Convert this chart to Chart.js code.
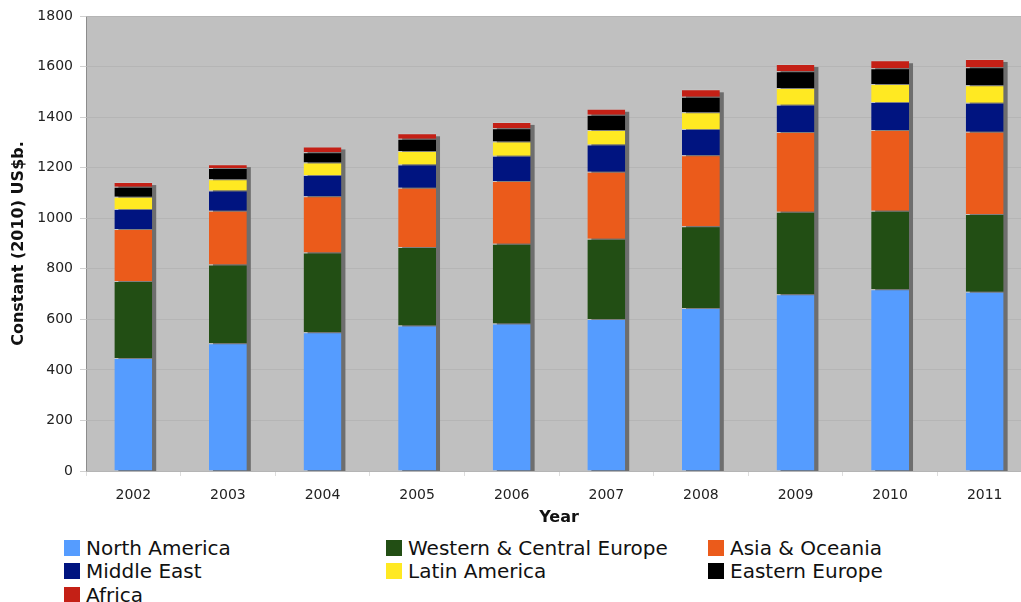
<!DOCTYPE html>
<html>
<head>
<meta charset="utf-8">
<script src="https://cdn.jsdelivr.net/npm/chart.js@4.4.1/dist/chart.umd.min.js"></script>
<style>
  html, body { margin: 0; padding: 0; background: #fff; overflow: hidden; }
  #wrap { position: relative; width: 1021px; height: 602px; overflow: hidden; }
  #myChart { position: absolute; left: 0; top: 0; }
  #legend {
    position: absolute; left: 64px; top: 536px;
    display: grid; grid-template-columns: 322px 322px 300px;
    row-gap: 0px;
    font-family: "DejaVu Sans", Verdana, sans-serif; font-size: 20px; color: #111;
  }
  .item { display: flex; align-items: center; height: 23.5px; white-space: nowrap; }
  .box { width: 16px; height: 16px; margin-right: 6px; flex: none; }
</style>
</head>
<body>
<div id="wrap">
  <canvas id="myChart" width="1035" height="527"></canvas>
  <div id="legend"></div>
</div>
<script>
// Data
const years = ['2002', '2003', '2004', '2005', '2006', '2007', '2008', '2009', '2010', '2011'];

const northAmerica   = [447, 505, 549, 576, 584, 601, 645, 699, 719, 709];
const westernEurope  = [305, 312, 315, 310, 315, 318, 323, 327, 311, 308];
const asiaOceania    = [205, 213, 223, 235, 248, 265, 281, 315, 319, 325];
const middleEast     = [79, 80, 84, 92, 100, 108, 104, 108, 111, 115];
const latinAmerica   = [49, 44, 49, 53, 57, 57, 66, 66, 71, 69];
const easternEurope  = [40, 45, 41, 48, 52, 60, 62, 66, 62, 71];
const africa         = [18, 15, 23, 22, 25, 24, 29, 29, 32, 33];

const seriesNames = ['North America', 'Western & Central Europe', 'Asia & Oceania',
    'Middle East', 'Latin America', 'Eastern Europe', 'Africa'];
const seriesData = [northAmerica, westernEurope, asiaOceania, middleEast,
    latinAmerica, easternEurope, africa];
const seriesColors = ['#559cff', '#224e14', '#eb5b1b', '#001480', '#ffe922', '#000000', '#c42016'];

const yTicks = [0, 200, 400, 600, 800, 1000, 1200, 1400, 1600, 1800];

const FONT = '"DejaVu Sans", Verdana, sans-serif';

// gray plot background with a thin frame
const plotBackground = {
    id: 'plotBackground',
    beforeDraw(chart) {
        const { ctx, chartArea: a } = chart;
        ctx.save();
        ctx.fillStyle = '#c0c0c0';
        ctx.fillRect(a.left, a.top, a.right - a.left, a.bottom - a.top);
        ctx.strokeStyle = '#8c8c8c';
        ctx.lineWidth = 1;
        ctx.strokeRect(a.left + 0.5, a.top + 0.5, a.right - a.left - 1, a.bottom - a.top);
        ctx.restore();
    }
};

// drop shadow behind every stacked column
const barShadow = {
    id: 'barShadow',
    beforeDatasetsDraw(chart) {
        const { ctx, chartArea: a } = chart;
        const n = chart.data.datasets.length;
        const first = chart.getDatasetMeta(0);
        const last = chart.getDatasetMeta(n - 1);
        ctx.save();
        ctx.beginPath();
        ctx.rect(a.left, a.top, a.right - a.left, a.bottom - a.top);
        ctx.clip();
        ctx.fillStyle = '#6e6e6e';
        first.data.forEach((bar, i) => {
            const top = last.data[i].y;
            ctx.fillRect(bar.x - bar.width / 2 + 4, top + 3, bar.width, bar.base - top);
        });
        ctx.restore();
    }
};

const canvas = document.getElementById('myChart');
const ctx = canvas.getContext('2d');

window.myChart = new Chart(ctx, {
    type: 'bar',
    data: {
        labels: years,
        datasets: seriesNames.map((name, i) => ({
            label: name,
            data: seriesData[i],
            backgroundColor: seriesColors[i],
            borderColor: 'rgba(255,255,255,0.12)',
            borderWidth: { top: 1, left: 0, right: 0, bottom: 0 },
            borderSkipped: false,
            barPercentage: 0.4,
            categoryPercentage: 1.0
        }))
    },
    options: {
        responsive: false,
        animation: false,
        layout: { padding: { left: 0, right: 3, top: 16, bottom: 0 } },
        scales: {
            x: {
                stacked: true,
                offset: true,
                afterFit: (scale) => { scale.height = 56; },
                grid: { display: true, drawOnChartArea: false, offset: true, color: '#dddddd', tickLength: 5 },
                border: { display: false },
                ticks: { color: '#222', font: { family: FONT, size: 14 }, padding: 11, maxRotation: 0 },
                title: {
                    display: true, text: 'Year', color: '#111',
                    font: { family: FONT, size: 16, weight: 'bold' },
                    padding: { top: 0, bottom: 0 }
                }
            },
            y: {
                stacked: true,
                min: 0,
                max: 1800,
                afterBuildTicks: (scale) => { scale.ticks = yTicks.map(v => ({ value: v })); },
                afterFit: (scale) => { scale.width = 86; },
                grid: { color: '#b5b5b5', tickColor: '#d0d0d0', tickLength: 6 },
                border: { display: false },
                ticks: {
                    color: '#222', font: { family: FONT, size: 14 }, padding: 7,
                    callback: (v) => String(v)
                },
                title: {
                    display: true, text: 'Constant (2010) US$b.', color: '#111',
                    font: { family: FONT, size: 16, weight: 'bold' },
                    padding: { top: 9, bottom: 0 }
                }
            }
        },
        plugins: {
            legend: { display: false },
            tooltip: { enabled: false }
        }
    },
    plugins: [plotBackground, barShadow]
});

// legend in three columns, built from the datasets
const legend = document.getElementById('legend');
window.myChart.data.datasets.forEach(ds => {
    const item = document.createElement('div');
    item.className = 'item';
    const box = document.createElement('span');
    box.className = 'box';
    box.style.background = ds.backgroundColor;
    const txt = document.createElement('span');
    txt.textContent = ds.label;
    item.appendChild(box);
    item.appendChild(txt);
    legend.appendChild(item);
});
</script>
</body>
</html>
